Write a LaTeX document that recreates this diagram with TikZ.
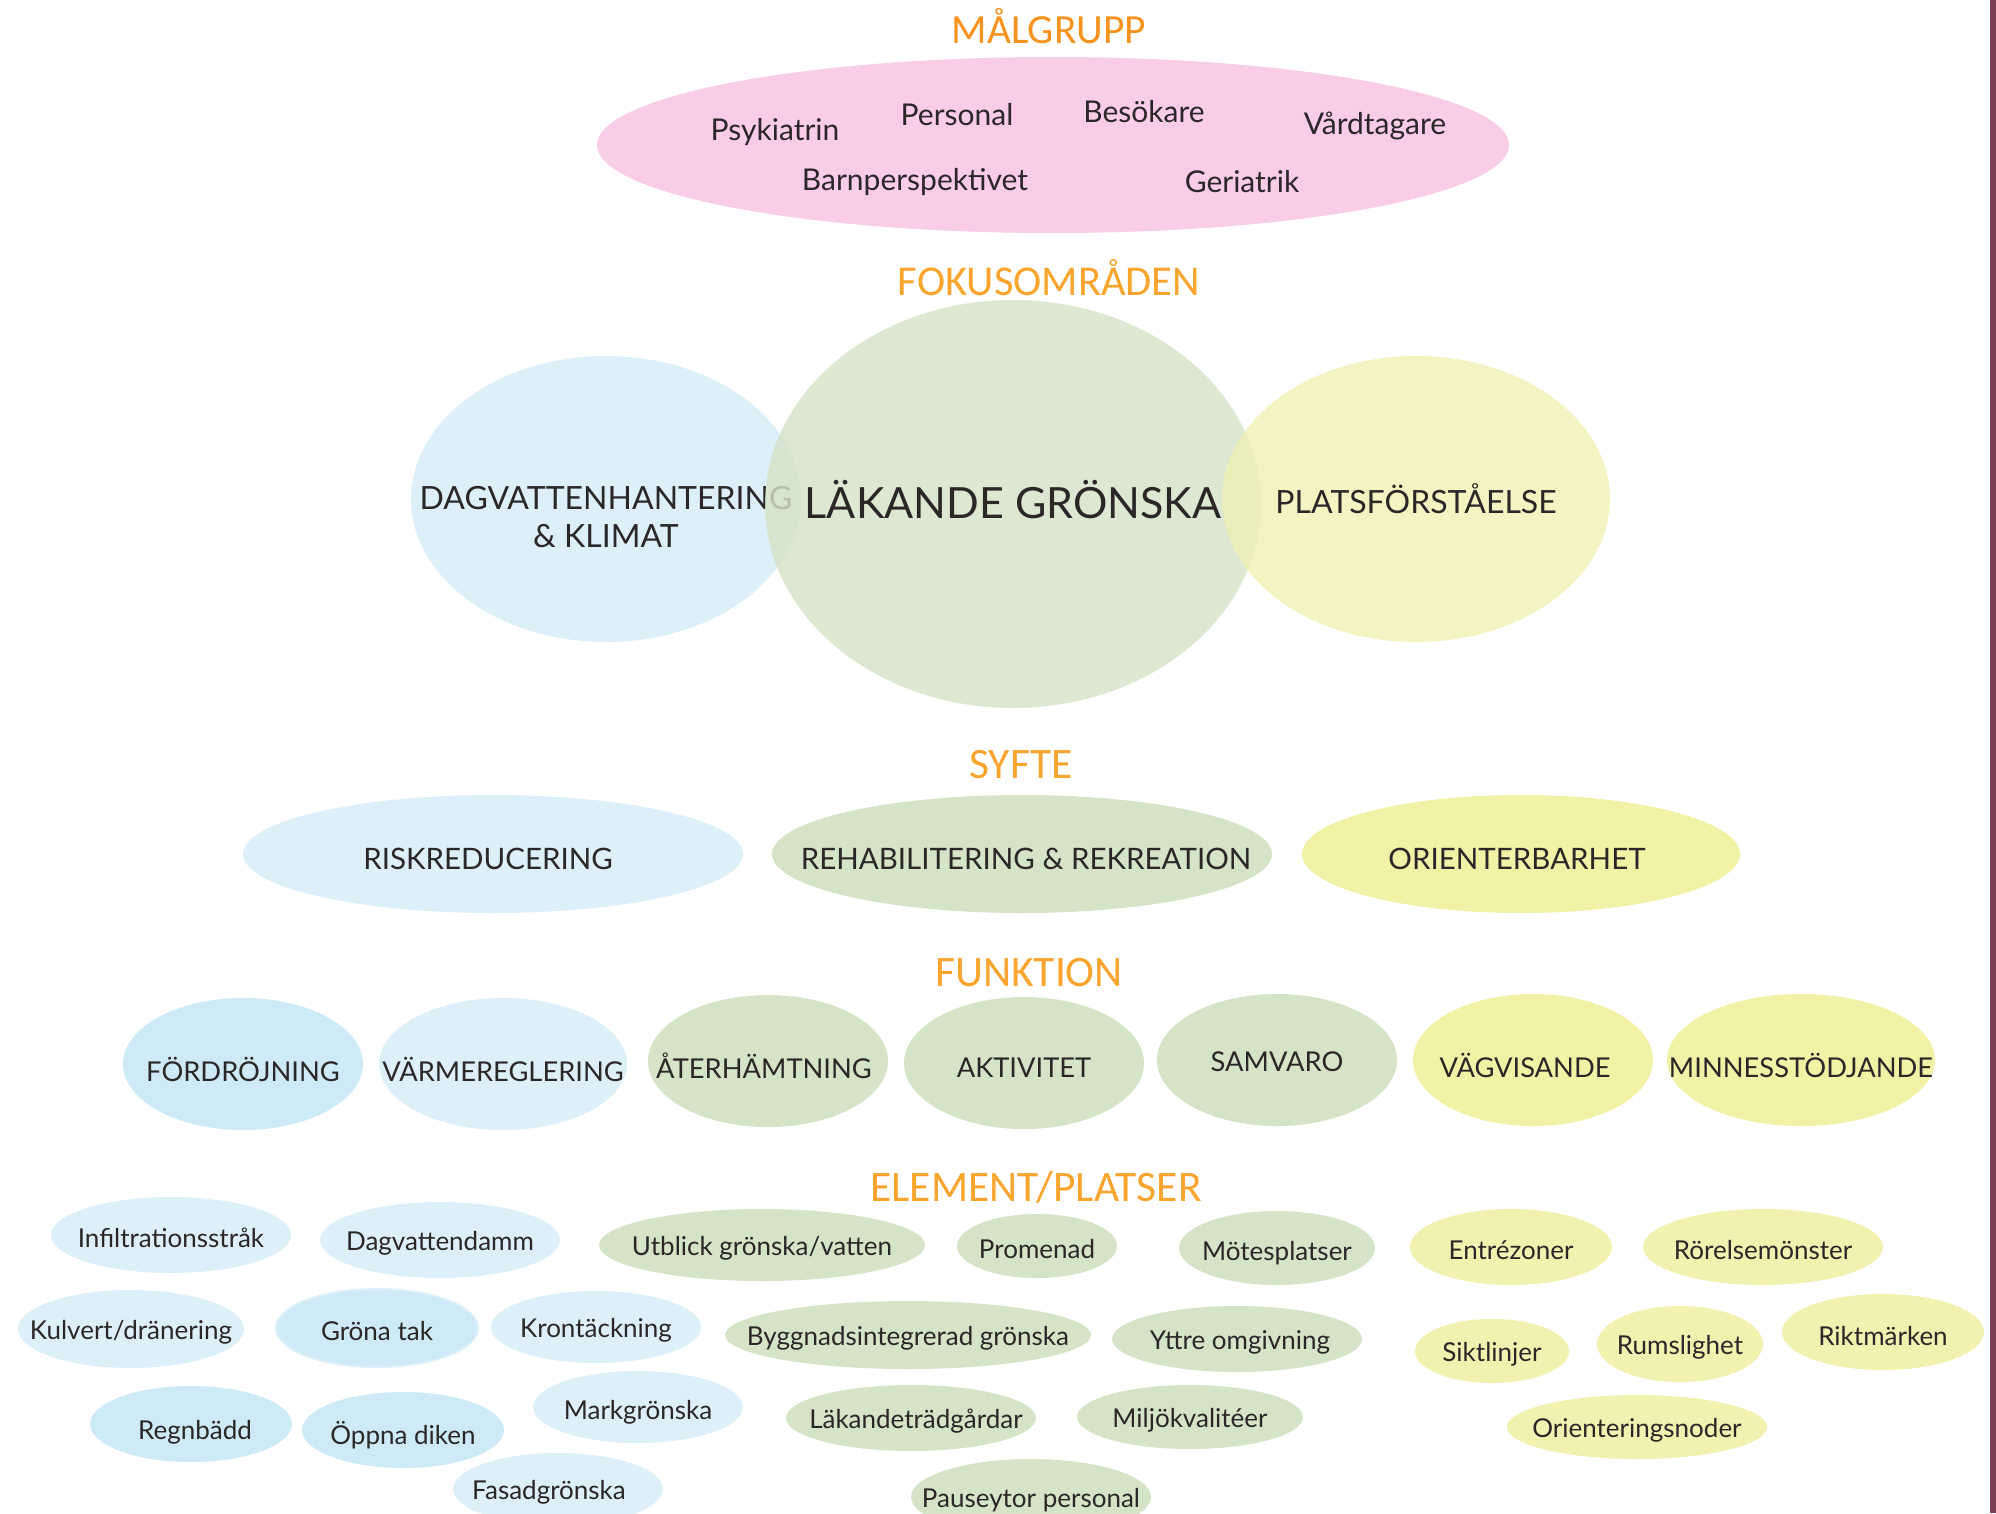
\documentclass[tikz,border=0pt]{standalone}
\usepackage{fontspec}
\setmainfont{Lato}
\newfontfamily\headfont{Carlito}
\usetikzlibrary{shapes.geometric}

\definecolor{ink}{HTML}{2B2728}
\definecolor{rubrik}{HTML}{F9A42C}
\definecolor{rubrikm}{HTML}{F7931E}
\definecolor{rosa}{HTML}{F9CCE7}
\definecolor{ljusbla}{HTML}{DDF0FA}
\definecolor{bla}{HTML}{CFEAF7}
\definecolor{gron}{HTML}{D5E3C7}
\definecolor{gul}{HTML}{F1F1B0}
\definecolor{kant}{HTML}{7B3F55}

\tikzset{
  rubrik/.style={text=rubrik, font=\headfont\fontsize{43.5}{43.5}\selectfont},
  blob/.style={ellipse, inner sep=0pt, fill=#1},
  grupp/.style={text=ink, font=\fontsize{30}{30}\selectfont},
  el/.style={blob=#1},
  fn/.style={blob=#1, minimum width=240, minimum height=132},
  sy/.style={blob=#1, minimum height=118},
}

\begin{document}
\begin{tikzpicture}[x=1pt, y=-1pt]
    \useasboundingbox (0,0) rectangle (1996,1513);
    \fill[white] (0,0) rectangle (1996,1513);
    \fill[kant] (1990,0) rectangle (1996,1513);

    % malgrupp
    \node[rubrik, text=rubrikm, font=\headfont\fontsize{41.5}{41.5}\selectfont] (tmal) at (1049,26) {MÅLGRUPP};
    \node[blob=rosa, minimum width=912, minimum height=176] (mal) at (1053,145) {};
    \node[grupp] (psyk) at (775,132) {Psykiatrin};
    \node[grupp] (pers) at (957,115) {Personal};
    \node[grupp] (besok) at (1144,112) {Besökare};
    \node[grupp] (vard) at (1375,126) {Vårdtagare};
    \node[grupp] (barn) at (915,182) {Barnperspektivet};
    \node[grupp] (geri) at (1242,182) {Geriatrik};

    % fokusomraden
    \node[rubrik, font=\headfont\fontsize{42.5}{42.5}\selectfont] (tfokus) at (1049,278) {FOKUSOMRÅDEN};
    \node[blob=ljusbla, minimum width=390, minimum height=286] (dag) at (606,499) {};
    \node[text=ink, align=center, font=\fontsize{32}{38}\selectfont] (dagtxt) at (606,517)
        {DAGVATTENHANTERING\\\& KLIMAT};
    \node[blob=gron, fill opacity=0.82, minimum width=496, minimum height=408] (lak) at (1013,504) {};
    \node[text=ink, font=\fontsize{43}{43}\selectfont] (laktxt) at (1013,500) {LÄKANDE GRÖNSKA};
    \node[blob=gul, fill opacity=0.75, minimum width=388, minimum height=286] (plats) at (1416,499) {};
    \node[text=ink, font=\fontsize{32}{32}\selectfont] (platstxt) at (1416,499) {PLATSFÖRSTÅELSE};

    % syfte
    \node[rubrik] (tsyfte) at (1021,765) {SYFTE};
    \begin{scope}[every label/.style={text=ink, yshift=-5pt, font=\fontsize{29.5}{29.5}\selectfont}]
    \node[sy=ljusbla, minimum width=500, label={[xshift=-5pt]center:RISKREDUCERING}] (risk) at (493,854) {};
    \node[sy=gron, minimum width=500, label={[xshift=4pt]center:REHABILITERING \& REKREATION}] (rehab) at (1022,854) {};
    \node[sy=gul!95!yellow, minimum width=438, label={[xshift=-4pt]center:ORIENTERBARHET}] (orient) at (1521,854) {};
    \end{scope}

    % funktion
    \node[rubrik] (tfunk) at (1029,973) {FUNKTION};
    \begin{scope}[every label/.style={text=ink, yshift=-5pt, font=\fontsize{27.3}{27.3}\selectfont}]
    \node[fn=bla, label=center:FÖRDRÖJNING] (ford) at (243,1064) {};
    \node[fn=ljusbla, minimum width=248, label=center:VÄRMEREGLERING] (varme) at (503,1064) {};
    \node[fn=gron, label={[xshift=-4pt]center:ÅTERHÄMTNING}] (ater) at (768,1061) {};
    \node[fn=gron, label=center:AKTIVITET] (akt) at (1024,1063) {};
    \node[fn=gron, label={[yshift=3pt]center:SAMVARO}] (samv) at (1277,1060) {};
    \node[fn=gul!95!yellow, label={[xshift=-8pt]center:VÄGVISANDE}] (vag) at (1533,1060) {};
    \node[fn=gul!95!yellow, minimum width=268, label=center:MINNESSTÖDJANDE] (minne) at (1801,1060) {};
    \end{scope}

    % element/platser
    \node[rubrik] (telem) at (1036,1187) {ELEMENT/PLATSER};
    \begin{scope}[every label/.style={text=ink, yshift=-3pt, font=\fontsize{26}{26}\selectfont}]
    \node[el=ljusbla, minimum width=240, minimum height=76, label=center:Infiltrationsstråk] (infil) at (171,1235) {};
    \node[el=ljusbla, minimum width=240, minimum height=76, label=center:Dagvattendamm] (damm) at (440,1240) {};
    \node[el=ljusbla, minimum width=226, minimum height=78, label=center:Kulvert/dränering] (kulv) at (131,1329) {};
    \node[el=bla, draw=ljusbla, line width=2, minimum width=202, minimum height=78, label=center:Gröna tak] (tak) at (377,1328) {};
    \node[el=ljusbla, minimum width=210, minimum height=72, label=center:Krontäckning] (kron) at (596,1327) {};
    \node[el=bla, minimum width=202, minimum height=76, label={[xshift=4pt, yshift=-5pt]center:Regnbädd}] (regn) at (191,1424) {};
    \node[el=bla, minimum width=202, minimum height=76, label={[yshift=-2pt]center:Öppna diken}] (diken) at (403,1430) {};
    \node[el=ljusbla, minimum width=210, minimum height=72, label={[yshift=-2pt]center:Markgrönska}] (mark) at (638,1407) {};
    \node[el=ljusbla, minimum width=210, minimum height=72, label={[xshift=-9pt]center:Fasadgrönska}] (fasad) at (558,1489) {};

    \node[el=gron, minimum width=326, minimum height=72, label=center:Utblick grönska/vatten] (utbl) at (762,1245) {};
    \node[el=gron, minimum width=160, minimum height=64, label=center:Promenad] (prom) at (1037,1246) {};
    \node[el=gron, minimum width=196, minimum height=74, label={[yshift=-2pt]center:Mötesplatser}] (mote) at (1277,1248) {};
    \node[el=gron, minimum width=366, minimum height=68, label=center:Byggnadsintegrerad grönska] (bygg) at (908,1335) {};
    \node[el=gron, minimum width=250, minimum height=66, label={[xshift=3pt]center:Yttre omgivning}] (yttre) at (1237,1339) {};
    \node[el=gron, minimum width=250, minimum height=66, label={[xshift=5pt]center:Läkandeträdgårdar}] (tradg) at (911,1418) {};
    \node[el=gron, minimum width=226, minimum height=64, label=center:Miljökvalitéer] (miljo) at (1190,1417) {};
    \node[el=gron, minimum width=240, minimum height=76, label=center:Pauseytor personal] (paus) at (1031,1497) {};

    \node[el=gul, minimum width=202, minimum height=76, label=center:Entrézoner] (entre) at (1511,1247) {};
    \node[el=gul, minimum width=240, minimum height=76, label=center:Rörelsemönster] (rorel) at (1763,1247) {};
    \node[el=gul, minimum width=154, minimum height=64, label=center:Siktlinjer] (sikt) at (1492,1351) {};
    \node[el=gul, minimum width=166, minimum height=76, label=center:Rumslighet] (rum) at (1680,1344) {};
    \node[el=gul, minimum width=202, minimum height=76, label={[yshift=-1pt]center:Riktmärken}] (rikt) at (1883,1332) {};
    \node[el=gul, minimum width=260, minimum height=64, label=center:Orienteringsnoder] (onod) at (1637,1427) {};
    \end{scope}
\end{tikzpicture}
\end{document}
